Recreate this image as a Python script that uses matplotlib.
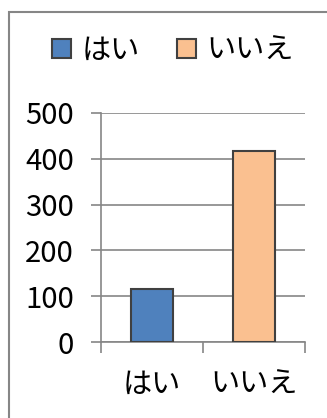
import matplotlib
matplotlib.use("Agg")
import matplotlib.pyplot as plt
from matplotlib.patches import Patch, Rectangle

plt.rcParams['font.family'] = ['Noto Sans CJK JP', 'DejaVu Sans']

# data
categories = ['はい', 'いいえ']
values = [116, 418]
colors = ['#4F81BD', '#FAC090']
yticks = [0, 100, 200, 300, 400, 500]

W, H = 327, 418
fig = plt.figure(figsize=(W / 100, H / 100), dpi=100)

# outer chart frame (runs off the right/bottom edge)
fig.patches.append(Rectangle((9 / W, -0.1), 1.2, 1.1 - 12 / H, transform=fig.transFigure,
                             fill=False, edgecolor='#868686', linewidth=1.5))

ax = fig.add_axes([101 / W, (H - 342) / H, 204 / W, 229 / H])
x = range(len(categories))
ax.bar(x, values, width=0.42, color=colors, edgecolor='#404040', linewidth=1.5, zorder=3)

ax.set_xlim(-0.5, 1.5)
ax.set_ylim(0, 500)
ax.set_yticks(yticks)
ax.set_yticklabels([str(v) for v in yticks], fontsize=21)
ax.grid(axis='y', color='#868686', linewidth=1.2, zorder=0)
ax.tick_params(axis='y', length=7.5, width=1.2, color='#868686', pad=12)

ax.set_xticks(list(x))
ax.set_xticklabels(categories, fontsize=21)
ax.set_xticks([-0.5, 0.5, 1.5], minor=True)
ax.tick_params(axis='x', which='major', length=0, pad=20)
ax.tick_params(axis='x', which='minor', length=8, width=1.2, color='#868686')

for s in ['top', 'right']:
    ax.spines[s].set_visible(False)
for s in ['left', 'bottom']:
    ax.spines[s].set_color('#868686')
    ax.spines[s].set_linewidth(1.2)

handles = [Patch(facecolor=c, edgecolor='#404040', linewidth=1.5) for c in colors]
fig.legend(handles, categories, loc='center', bbox_to_anchor=(173 / W, 1 - 51 / H),
           ncol=2, frameon=False, fontsize=21, handlelength=0.65, handleheight=0.65,
           handletextpad=0.35, columnspacing=1.3)

fig.savefig('out.png', dpi=100)
